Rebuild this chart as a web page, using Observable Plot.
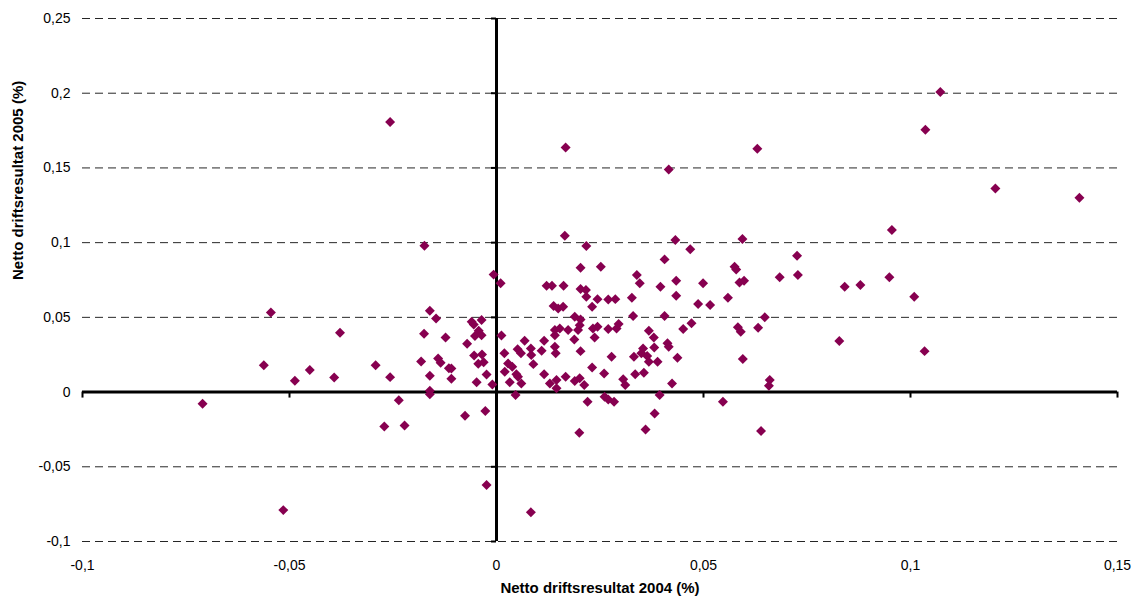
<!DOCTYPE html>
<html><head><meta charset="utf-8">
<script src="https://cdn.jsdelivr.net/npm/d3@7"></script>
<script src="https://cdn.jsdelivr.net/npm/@observablehq/plot@0.6"></script>
<style>
html,body{margin:0;padding:0;background:#fff;}
</style></head><body><div id="chart"></div>
<script>
// Netto driftsresultat 2004 (%) — x values
const x2004 = [
-0.0710,-0.0562,-0.0545,-0.0515,-0.0487,-0.0451,-0.0392,-0.0378,-0.0292,-0.0271,
-0.0257,-0.0257,-0.0236,-0.0222,-0.0182,-0.0174,-0.0175,-0.0161,-0.0161,-0.0161,
-0.0161,-0.0146,-0.0141,-0.0135,-0.0123,-0.0115,-0.0109,-0.0109,-0.0076,-0.0071,
-0.0060,-0.0055,-0.0054,-0.0052,-0.0048,-0.0044,-0.0043,-0.0036,-0.0036,-0.0035,
-0.0031,-0.0027,-0.0024,-0.0024,-0.0010,-0.0007,0.0010,0.0012,0.0019,0.0020,
0.0028,0.0032,0.0038,0.0046,0.0048,0.0051,0.0052,0.0059,0.0060,0.0068,
0.0083,0.0083,0.0084,0.0089,0.0109,0.0115,0.0115,0.0121,0.0129,0.0134,
0.0138,0.0149,0.0141,0.0141,0.0141,0.0143,0.0145,0.0145,0.0153,0.0161,
0.0162,0.0165,0.0167,0.0167,0.0173,0.0188,0.0189,0.0189,0.0197,0.0200,
0.0201,0.0201,0.0203,0.0203,0.0203,0.0203,0.0212,0.0216,0.0217,0.0217,
0.0220,0.0231,0.0231,0.0233,0.0237,0.0244,0.0244,0.0252,0.0260,0.0261,
0.0270,0.0270,0.0270,0.0278,0.0284,0.0287,0.0290,0.0295,0.0306,0.0311,
0.0327,0.0330,0.0332,0.0335,0.0339,0.0346,0.0350,0.0354,0.0356,0.0360,
0.0364,0.0368,0.0368,0.0380,0.0381,0.0382,0.0389,0.0394,0.0396,0.0406,
0.0406,0.0413,0.0416,0.0416,0.0424,0.0432,0.0434,0.0434,0.0437,0.0451,
0.0468,0.0471,0.0487,0.0499,0.0516,0.0547,0.0559,0.0575,0.0579,0.0583,
0.0587,0.0590,0.0594,0.0595,0.0598,0.0630,0.0632,0.0639,0.0648,0.0658,
0.0660,0.0684,0.0726,0.0728,0.0828,0.0841,0.0879,0.0949,0.0955,0.1009,
0.1034,0.1036,0.1072,0.1205,0.1408
];
// Netto driftsresultat 2005 (%) — y values
const y2005 = [
-0.0078,0.0180,0.0533,-0.0790,0.0076,0.0147,0.0098,0.0397,0.0180,-0.0230,
0.1808,0.0100,-0.0054,-0.0223,0.0205,0.0980,0.0390,0.0544,0.0109,0.0009,
-0.0015,0.0493,0.0225,0.0196,0.0366,0.0160,0.0158,0.0089,-0.0158,0.0323,
0.0470,0.0453,0.0245,0.0375,0.0065,0.0190,0.0410,0.0482,0.0380,0.0252,
0.0199,-0.0127,0.0118,-0.0622,0.0051,0.0786,0.0728,0.0378,0.0259,0.0136,
0.0192,0.0065,0.0170,-0.0020,0.0120,0.0286,0.0103,0.0259,0.0058,0.0343,
0.0292,-0.0805,0.0248,0.0187,0.0276,0.0343,0.0120,0.0712,0.0058,0.0712,
0.0576,0.0560,0.0415,0.0380,0.0303,0.0259,0.0080,0.0025,0.0426,0.0571,
0.0712,0.1046,0.1637,0.0103,0.0415,0.0352,0.0504,0.0074,0.0415,-0.0272,
0.0448,0.0092,0.0832,0.0689,0.0486,0.0274,0.0047,0.0683,0.0977,0.0638,
-0.0065,0.0571,0.0165,0.0426,0.0366,0.0622,0.0437,0.0839,0.0125,-0.0031,
0.0620,0.0422,-0.0050,0.0236,-0.0065,0.0622,0.0426,0.0455,0.0085,0.0047,
0.0631,0.0509,0.0236,0.0120,0.0783,0.0728,0.0259,0.0292,0.0129,-0.0250,
0.0241,0.0410,0.0203,0.0366,0.0299,-0.0143,0.0203,-0.0020,0.0705,0.0888,
0.0509,0.0326,0.0303,0.1490,0.0058,0.1017,0.0745,0.0645,0.0230,0.0422,
0.0955,0.0460,0.0589,0.0728,0.0582,-0.0065,0.0631,0.0839,0.0821,0.0433,
0.0734,0.0404,0.1024,0.0221,0.0745,0.1628,0.0430,-0.0261,0.0500,0.0042,
0.0080,0.0768,0.0912,0.0783,0.0341,0.0705,0.0716,0.0768,0.1084,0.0638,
0.0274,0.1755,0.2008,0.1363,0.1300
];
const xTicks = [-0.1, -0.05, 0, 0.05, 0.1, 0.15];
const yTicks = [-0.1, -0.05, 0, 0.05, 0.1, 0.15, 0.2, 0.25];
const xTitle = "Netto driftsresultat 2004 (%)";
const yTitle = "Netto driftsresultat 2005 (%)";

const fmt = d => String(d).replace(".", ",");
const n = Math.min(x2004.length, y2005.length);
const points = d3.range(n).map(i => ({x: x2004[i], y: y2005[i]}));

const chart = Plot.plot({
  width: 1137,
  height: 601,
  marginLeft: 82,
  marginRight: 20,
  marginTop: 18,
  marginBottom: 60,
  style: {fontFamily: "'Liberation Sans', Arial, sans-serif", fontSize: "14px", background: "#fff", color: "#000", overflow: "visible"},
  x: {domain: [-0.1, 0.15]},
  y: {domain: [-0.1, 0.25]},
  marks: [
    Plot.gridY(yTicks.filter(d => d !== 0), {stroke: "#000", strokeOpacity: 0.85, strokeDasharray: "8,5", strokeWidth: 1}),
    Plot.axisY(yTicks, {tickSize: 0, tickPadding: 12, tickFormat: fmt, label: null}),
    Plot.axisX(xTicks, {tickSize: 0, tickPadding: 19, tickFormat: fmt, label: null}),
    Plot.ruleY([0], {stroke: "#000", strokeWidth: 3}),
    Plot.ruleX([0], {stroke: "#000", strokeWidth: 3}),
    Plot.ruleX(xTicks, {x: d => d, y1: 0, y2: 0, insetBottom: -6, stroke: "#000", strokeWidth: 2}),
    Plot.ruleY(yTicks, {y: d => d, x1: 0, x2: 0, insetLeft: -5, stroke: "#000", strokeWidth: 2}),
    Plot.dot(points, {x: "x", y: "y", symbol: "diamond2", r: 4.5, fill: "#870050", stroke: "none"}),
    Plot.text([xTitle], {frameAnchor: "bottom", dy: 51, fontWeight: "bold", fontSize: 15, fill: "#000"}),
    Plot.text([yTitle], {frameAnchor: "left", dx: -64, rotate: -90, fontWeight: "bold", fontSize: 15, fill: "#000"})
  ]
});
document.getElementById("chart").appendChild(chart);
</script>
</body></html>
